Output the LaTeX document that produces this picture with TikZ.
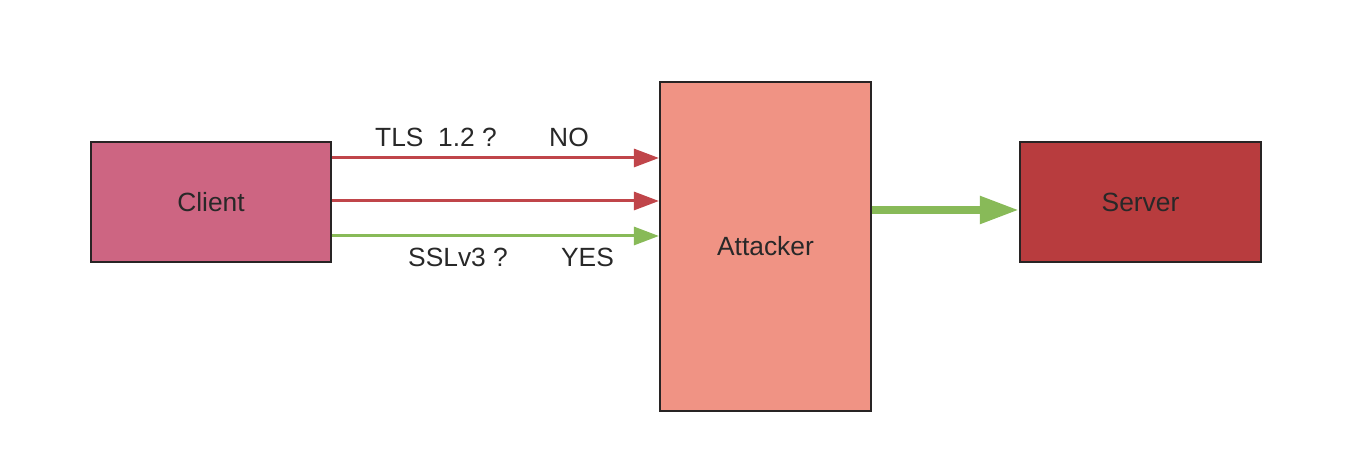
\documentclass[tikz,border=0pt]{standalone}
\usepackage{fontspec}
\setmainfont{Liberation Sans}
\usetikzlibrary{arrows.meta}
\definecolor{clientFill}{RGB}{205,101,130}
\definecolor{attackerFill}{RGB}{240,147,132}
\definecolor{serverFill}{RGB}{184,60,62}
\definecolor{noRed}{RGB}{192,69,74}
\definecolor{yesGreen}{RGB}{136,186,88}
\definecolor{edgeGray}{RGB}{40,36,36}
\definecolor{textGray}{RGB}{40,40,40}

\begin{document}
\begin{tikzpicture}[%%
  boxDecorate/.style={draw=edgeGray,line width=1.2pt,inner sep=0pt,text=textGray},%%
  arrowDecorate/.style={line width=1.7pt,-{Triangle[length=0.5cm,width=0.36cm]}},%%
  bigArrowDecorate/.style={yesGreen,line width=0.16cm,-{Triangle[length=0.78cm,width=0.52cm]}},%%
  labelDecorate/.style={inner sep=0pt,anchor=base,text=textGray}%%
]
\fontsize{15}{18}\selectfont
%%
%% Canvas.
\useasboundingbox (0,0) rectangle (27.16,9.48);
%%
%% Global variables.
\pgfmathsetmacro{\Yc}{5.44}
\pgfmathsetmacro{\Ya}{4.55}
\pgfmathsetmacro{\Ytop}{6.54}
\pgfmathsetmacro{\Ybot}{4.14}
%%
%% Boxes.
\node[boxDecorate,fill=clientFill,minimum width=4.8cm,minimum height=2.4cm]
  (client) at (4.22,\Yc) {Client};
\node[boxDecorate,fill=attackerFill,minimum width=4.22cm,minimum height=6.58cm]
  (attacker) at (15.31,\Ya) {Attacker};
\node[boxDecorate,fill=serverFill,minimum width=4.82cm,minimum height=2.4cm]
  (server) at (22.81,\Yc) {Server};
%%
%% Client to attacker.
\draw[arrowDecorate,noRed] ([yshift=0.88cm]client.east)
  -- ([yshift=0.88cm]client.east -| attacker.west);
\draw[arrowDecorate,noRed] ([yshift=0.02cm]client.east)
  -- ([yshift=0.02cm]client.east -| attacker.west);
\draw[arrowDecorate,yesGreen] ([yshift=-0.68cm]client.east)
  -- ([yshift=-0.68cm]client.east -| attacker.west);
%%
%% Attacker to server.
\draw[bigArrowDecorate] ([yshift=-0.16cm]server.west -| attacker.east)
  -- ([yshift=-0.16cm]server.west);
%%
%% Labels.
\node[labelDecorate] (tls) at (8.72,\Ytop) {TLS\ \ 1.2 ?};
\node[labelDecorate] (no) at (11.38,\Ytop) {NO};
\node[labelDecorate] (ssl) at (9.16,\Ybot) {SSLv3 ?};
\node[labelDecorate] (yes) at (11.75,\Ybot) {YES};
\end{tikzpicture}
\end{document}
